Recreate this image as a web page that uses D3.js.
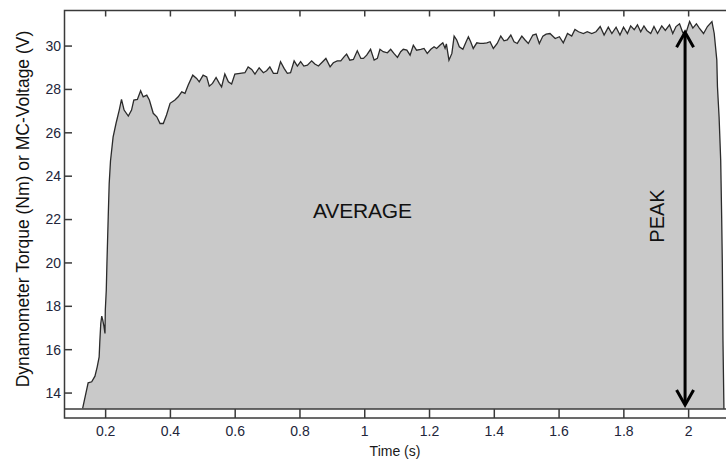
<!DOCTYPE html>
<html>
<head>
<meta charset="utf-8">
<script src="https://cdn.jsdelivr.net/npm/d3@7"></script>
<style>
  body { margin: 0; background: #fff; }
  svg { display: block; font-family: "Liberation Sans", Arial, sans-serif; }
</style>
</head>
<body>
<svg id="canvas" width="726" height="461"></svg>
<script>
// time (s) of each sample
const times = [
  0.129, 0.146, 0.157, 0.167, 0.174, 0.180, 0.182, 0.185, 0.188, 0.191, 0.195, 0.198, 0.199,
  0.202, 0.204, 0.208, 0.211, 0.215, 0.223, 0.232, 0.242, 0.249, 0.257, 0.270, 0.280, 0.287,
  0.298, 0.308, 0.316, 0.327, 0.335, 0.347, 0.358, 0.368, 0.378, 0.388, 0.399, 0.414, 0.424,
  0.435, 0.445, 0.455, 0.469, 0.481, 0.489, 0.501, 0.512, 0.520, 0.530, 0.541, 0.551, 0.558,
  0.568, 0.579, 0.589, 0.599, 0.615, 0.630, 0.640, 0.651, 0.661, 0.674, 0.687, 0.697, 0.707,
  0.718, 0.730, 0.740, 0.751, 0.761, 0.771, 0.782, 0.792, 0.802, 0.812, 0.823, 0.836, 0.846,
  0.857, 0.870, 0.880, 0.893, 0.903, 0.915, 0.926, 0.936, 0.944, 0.954, 0.965, 0.977, 0.988,
  0.996, 1.006, 1.018, 1.029, 1.039, 1.047, 1.057, 1.070, 1.080, 1.090, 1.101, 1.111, 1.119,
  1.130, 1.140, 1.150, 1.160, 1.173, 1.183, 1.193, 1.204, 1.214, 1.222, 1.232, 1.241, 1.248,
  1.252, 1.260, 1.269, 1.276, 1.284, 1.292, 1.303, 1.313, 1.320, 1.327, 1.335, 1.346, 1.356,
  1.366, 1.377, 1.387, 1.397, 1.409, 1.420, 1.430, 1.440, 1.451, 1.461, 1.471, 1.485, 1.495,
  1.505, 1.519, 1.529, 1.539, 1.550, 1.560, 1.572, 1.588, 1.601, 1.613, 1.626, 1.639, 1.649,
  1.660, 1.675, 1.687, 1.701, 1.714, 1.727, 1.739, 1.752, 1.763, 1.776, 1.788, 1.799, 1.811,
  1.821, 1.832, 1.842, 1.852, 1.862, 1.871, 1.883, 1.893, 1.904, 1.917, 1.928, 1.941, 1.951,
  1.961, 1.972, 1.982, 1.993, 2.003, 2.013, 2.024, 2.033, 2.046, 2.058, 2.072, 2.079, 2.087,
  2.089, 2.094, 2.099, 2.102, 2.104, 2.106, 2.109
];

// torque / voltage at each sample
const values = [
  13.29, 14.47, 14.52, 14.78, 15.21, 15.67, 16.37, 17.21, 17.55, 17.37, 17.06, 16.75, 17.83,
  18.75, 19.98, 22.13, 23.67, 24.70, 25.80, 26.43, 27.05, 27.54, 27.05, 26.77, 27.05, 27.51,
  27.54, 27.94, 27.66, 27.74, 27.51, 26.90, 26.74, 26.43, 26.43, 26.82, 27.36, 27.51, 27.66,
  27.89, 27.82, 28.20, 28.66, 28.51, 28.35, 28.66, 28.58, 28.15, 28.28, 28.55, 28.28, 28.12,
  28.71, 28.35, 28.25, 28.71, 28.74, 28.77, 29.04, 28.92, 28.71, 29.00, 28.77, 28.86, 29.04,
  28.74, 28.74, 29.28, 28.97, 28.74, 28.77, 29.32, 29.08, 29.28, 29.08, 29.12, 29.32, 29.17,
  29.08, 29.28, 29.43, 29.04, 29.23, 29.32, 29.32, 29.50, 29.63, 29.35, 29.38, 29.78, 29.43,
  29.43, 29.58, 29.85, 29.35, 29.43, 29.85, 29.74, 29.69, 29.85, 29.66, 29.48, 29.74, 29.85,
  29.81, 29.58, 30.04, 29.81, 29.85, 29.89, 29.66, 29.85, 29.97, 29.89, 30.04, 30.15, 29.90,
  30.10, 29.35, 29.66, 30.46, 30.28, 29.97, 29.85, 30.20, 30.43, 30.20, 29.89, 30.15, 30.12,
  30.12, 30.15, 30.20, 29.89, 30.12, 30.46, 30.24, 30.28, 30.51, 30.20, 30.12, 30.46, 30.28,
  30.12, 30.51, 30.55, 30.12, 30.46, 30.55, 30.58, 30.35, 30.43, 30.15, 30.58, 30.46, 30.77,
  30.66, 30.58, 30.66, 30.58, 30.66, 30.90, 30.51, 30.87, 30.58, 30.87, 30.51, 30.87, 30.58,
  30.93, 30.75, 30.98, 30.66, 30.93, 30.72, 30.58, 30.90, 30.58, 30.93, 30.72, 30.98, 30.58,
  30.90, 31.03, 30.62, 30.66, 31.13, 30.83, 31.03, 30.83, 30.58, 30.90, 31.13, 30.58, 29.35,
  28.12, 26.74, 24.74, 22.11, 19.99, 16.44, 13.26
];

const xTicks = [0.2, 0.4, 0.6, 0.8, 1, 1.2, 1.4, 1.6, 1.8, 2];
const yTicks = [14, 16, 18, 20, 22, 24, 26, 28, 30];

const xDomain = [0.073, 2.12];
const yDomain = [12.85, 31.64];
const baseValue = 13.26;

// double arrow marking the peak
const peakTime = 1.989;
const peakRange = [13.45, 30.64];

const svg = d3.select("#canvas");
const x = d3.scaleLinear().domain(xDomain).range([64.5, 727.5]);
const y = d3.scaleLinear().domain(yDomain).range([418, 10.5]);

const points = times.map((t, i) => ({ t: t, v: values[i] }));

const area = d3
  .area()
  .x((d) => x(d.t))
  .y0(y(baseValue))
  .y1((d) => y(d.v));

const line = d3
  .line()
  .x((d) => x(d.t))
  .y((d) => y(d.v));

svg.append("path").datum(points).attr("d", area).attr("fill", "#c9c9c9");
svg
  .append("path")
  .datum(points)
  .attr("d", line)
  .attr("fill", "none")
  .attr("stroke", "#2b2b2b")
  .attr("stroke-width", 1.3);

// frame
const axisColor = "#3a3a3a";
svg
  .append("rect")
  .attr("x", x(xDomain[0]))
  .attr("y", y(yDomain[1]))
  .attr("width", x(xDomain[1]) - x(xDomain[0]))
  .attr("height", y(yDomain[0]) - y(yDomain[1]))
  .attr("fill", "none")
  .attr("stroke", axisColor)
  .attr("stroke-width", 1.5);

svg
  .append("line")
  .attr("x1", x(xDomain[0]))
  .attr("x2", x(xDomain[1]))
  .attr("y1", y(baseValue))
  .attr("y2", y(baseValue))
  .attr("stroke", axisColor)
  .attr("stroke-width", 1.5);

// x ticks: full strip at bottom, short at top
svg
  .selectAll(".xtick-b")
  .data(xTicks)
  .enter()
  .append("line")
  .attr("x1", (d) => x(d))
  .attr("x2", (d) => x(d))
  .attr("y1", y(yDomain[0]))
  .attr("y2", y(baseValue))
  .attr("stroke", axisColor)
  .attr("stroke-width", 1.5);

svg
  .selectAll(".xtick-t")
  .data(xTicks)
  .enter()
  .append("line")
  .attr("x1", (d) => x(d))
  .attr("x2", (d) => x(d))
  .attr("y1", y(yDomain[1]))
  .attr("y2", y(yDomain[1]) + 6)
  .attr("stroke", axisColor)
  .attr("stroke-width", 1.5);

svg
  .selectAll(".xlabel")
  .data(xTicks)
  .enter()
  .append("text")
  .attr("x", (d) => x(d))
  .attr("y", 436)
  .attr("text-anchor", "middle")
  .attr("font-size", 14)
  .attr("fill", "#22253a")
  .text((d) => d);

svg
  .selectAll(".ytick")
  .data(yTicks)
  .enter()
  .append("line")
  .attr("x1", x(xDomain[0]))
  .attr("x2", x(xDomain[0]) + 7.5)
  .attr("y1", (d) => y(d))
  .attr("y2", (d) => y(d))
  .attr("stroke", axisColor)
  .attr("stroke-width", 1.5);

svg
  .selectAll(".ylabel")
  .data(yTicks)
  .enter()
  .append("text")
  .attr("x", 61)
  .attr("y", (d) => y(d))
  .attr("dy", "0.35em")
  .attr("text-anchor", "end")
  .attr("font-size", 14)
  .attr("fill", "#22253a")
  .text((d) => d);

// axis titles
svg
  .append("text")
  .attr("x", 395)
  .attr("y", 456)
  .attr("text-anchor", "middle")
  .attr("font-size", 14)
  .attr("fill", "#1a1a1a")
  .text("Time (s)");

svg
  .append("text")
  .attr("transform", "translate(29,209) rotate(-90)")
  .attr("text-anchor", "middle")
  .attr("font-size", 17.5)
  .attr("fill", "#111")
  .text("Dynamometer Torque (Nm) or MC-Voltage (V)");

// annotations
svg
  .append("text")
  .attr("x", 362.5)
  .attr("y", 218)
  .attr("text-anchor", "middle")
  .attr("font-size", 21)
  .attr("textLength", 99)
  .attr("fill", "#111")
  .text("AVERAGE");

svg
  .append("text")
  .attr("transform", "translate(664,216) rotate(-90)")
  .attr("text-anchor", "middle")
  .attr("font-size", 20)
  .attr("fill", "#111")
  .text("PEAK");

const ax = x(peakTime);
const yTop = y(peakRange[1]);
const yBot = y(peakRange[0]);
const arrow = svg
  .append("g")
  .attr("fill", "none")
  .attr("stroke", "#000")
  .attr("stroke-width", 3);
arrow.append("line").attr("x1", ax).attr("x2", ax).attr("y1", yTop + 1).attr("y2", yBot - 1);
arrow
  .append("path")
  .attr("d", `M${ax - 8.5},${yTop + 15} L${ax},${yTop} L${ax + 8.5},${yTop + 15}`);
arrow
  .append("path")
  .attr("d", `M${ax - 8.5},${yBot - 15} L${ax},${yBot} L${ax + 8.5},${yBot - 15}`);
</script>
</body>
</html>
